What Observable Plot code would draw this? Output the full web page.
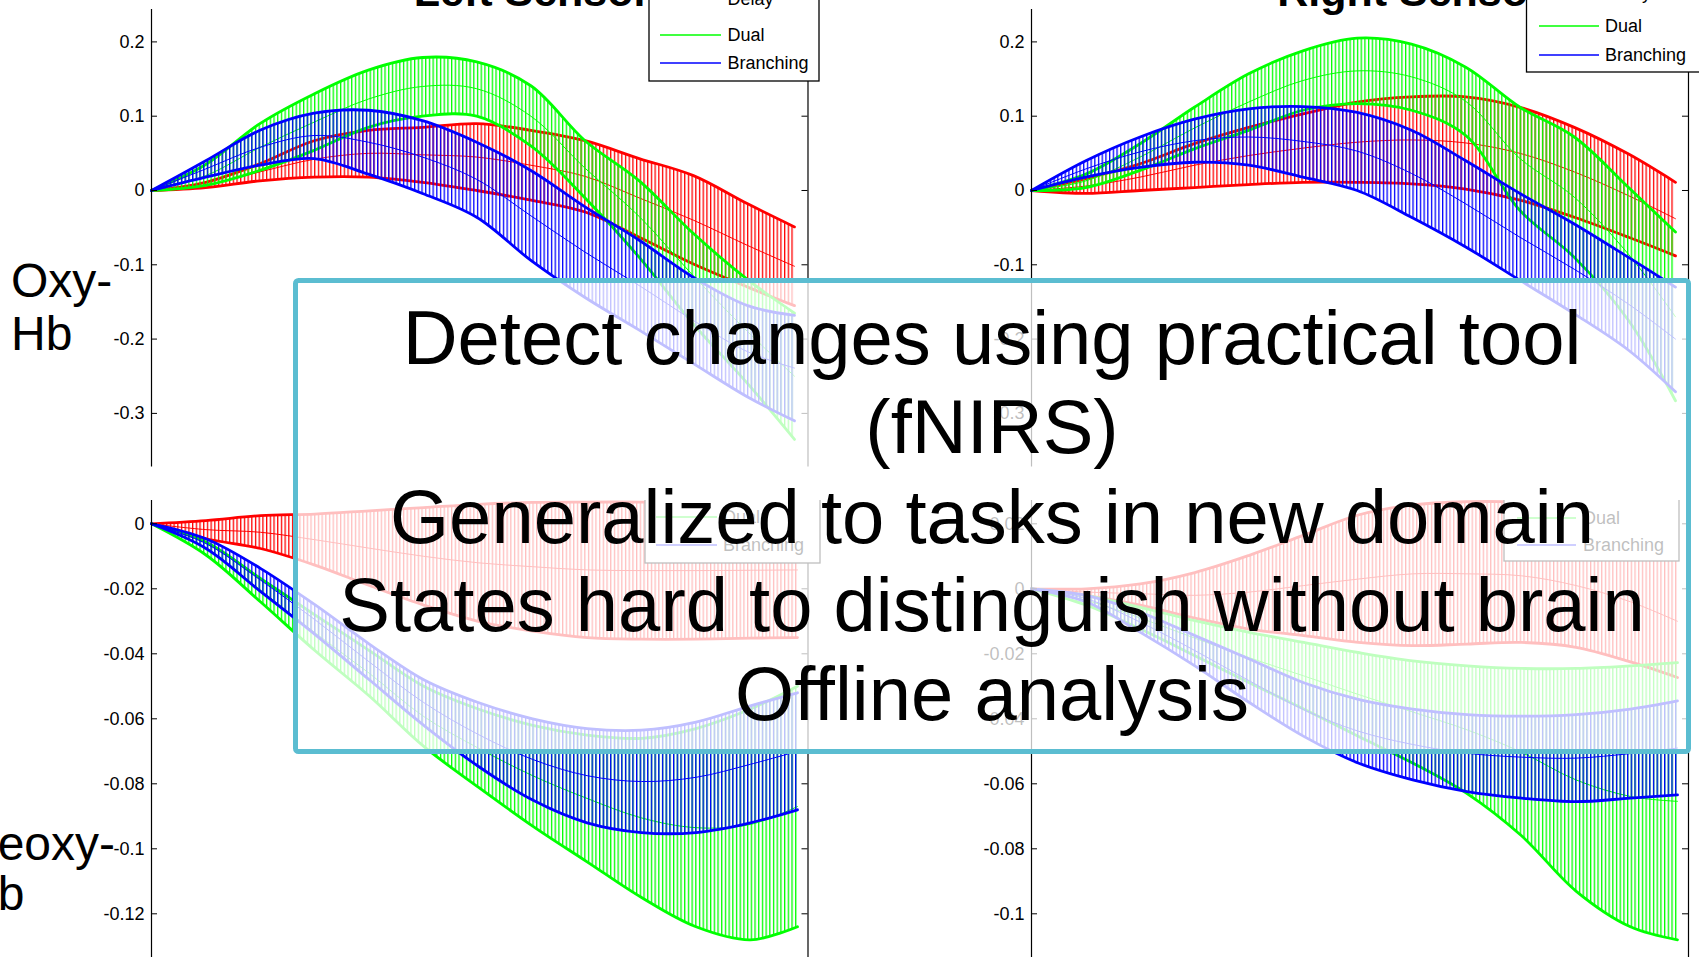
<!DOCTYPE html>
<html><head><meta charset="utf-8">
<script src="https://cdn.jsdelivr.net/npm/d3@7"></script>
<script src="https://cdn.jsdelivr.net/npm/@observablehq/plot@0.6"></script>
<style>
html,body{margin:0;padding:0;background:#fff;}
#stage{position:relative;width:1699px;height:957px;overflow:hidden;background:#fff;}
.panel{position:absolute;}
</style></head><body>
<svg width="0" height="0" style="position:absolute">
<defs>
<pattern id="vs-red" patternUnits="userSpaceOnUse" width="3.7" height="8"><rect width="1.3" height="8" fill="#ff0000"/></pattern>
<pattern id="vs-green" patternUnits="userSpaceOnUse" width="3.7" height="8"><rect width="1.3" height="8" fill="#00ff00"/></pattern>
<pattern id="vs-blue" patternUnits="userSpaceOnUse" width="3.7" height="8"><rect width="1.3" height="8" fill="#0000ff"/></pattern>
</defs></svg>
<div id="stage"></div>
<script>
// ---- data (time in s) ----
const t = [0, 1.18, 2.36, 3.54, 4.72, 5.9, 7.08, 8.26, 9.44, 10.62, 11.8, 12.98, 14];
const seriesNames = ["Delay", "Dual", "Branching"];

// Left sensor, Oxy-Hb
const tlDelayMean = [0, .007, .025, .042, .05, .048, .045, .034, .019, -.01, -.04, -.074, -.102];
const tlDelayLo   = [0, .004, .013, .018, .018, .011, 0, -.013, -.029, -.063, -.099, -.13, -.155];
const tlDelayHi   = [0, .011, .036, .067, .081, .085, .09, .081, .067, .043, .02, -.018, -.049];
const tlDualMean  = [0, .02, .058, .092, .123, .14, .137, .1, .03, -.035, -.115, -.19, -.25];
const tlDualLo    = [0, .007, .027, .054, .085, .1, .1, .06, -.01, -.09, -.18, -.26, -.335];
const tlDualHi    = [0, .035, .09, .13, .162, .179, .173, .141, .067, .013, -.058, -.12, -.165];
const tlBranMean  = [0, .029, .058, .074, .065, .045, .015, -.034, -.083, -.128, -.175, -.217, -.239];
const tlBranLo    = [0, .018, .034, .043, .022, -.004, -.036, -.094, -.144, -.188, -.233, -.278, -.31];
const tlBranHi    = [0, .04, .081, .104, .108, .094, .065, .027, -.022, -.067, -.117, -.155, -.168];

// Right sensor, Oxy-Hb
const trDelayMean = [0, .006, .018, .034, .047, .057, .065, .068, .064, .05, .025, -.007, -.038];
const trDelayLo   = [0, -.004, 0, .004, .008, .011, .011, .009, .002, -.013, -.036, -.063, -.088];
const trDelayHi   = [0, .016, .036, .063, .085, .103, .119, .126, .126, .112, .085, .049, .011];
const trDualMean  = [0, .013, .045, .084, .119, .148, .161, .153, .12, .043, -.009, -.086, -.17];
const trDualLo    = [0, .004, .027, .056, .081, .108, .117, .108, .074, -.027, -.09, -.175, -.283];
const trDualHi    = [0, .022, .063, .112, .157, .188, .205, .197, .166, .112, .072, .004, -.056];
const trBranMean  = [0, .029, .052, .067, .072, .066, .053, .023, -.018, -.063, -.106, -.153, -.2];
const trBranLo    = [0, .018, .031, .038, .034, .018, 0, -.036, -.076, -.121, -.166, -.215, -.271];
const trBranHi    = [0, .04, .072, .096, .11, .113, .105, .081, .04, -.004, -.045, -.09, -.13];

// Left sensor, Deoxy-Hb
const blDelayMean = [0, -.0018, -.0026, -.0049, -.0075, -.01, -.012, -.0132, -.0142, -.0144, -.0144, -.0143, -.0142];
const blDelayLo   = [0, -.0046, -.0076, -.0127, -.019, -.025, -.03, -.033, -.035, -.0355, -.0355, -.0352, -.035];
const blDelayHi   = [0, .001, .0025, .003, .004, .005, .006, .0066, .0067, .0067, .0067, .0067, .0066];
const blDualMean  = [0, -.0076, -.0204, -.0335, -.046, -.0593, -.069, -.0775, -.0845, -.0905, -.0935, -.0925, -.087];
const blDualLo    = [0, -.0096, -.024, -.039, -.053, -.0685, -.081, -.093, -.104, -.115, -.124, -.128, -.124];
const blDualHi    = [0, -.0056, -.0168, -.028, -.039, -.05, -.057, -.062, -.065, -.066, -.063, -.057, -.05];
const blBranMean  = [0, -.0061, -.0173, -.0295, -.0425, -.055, -.0648, -.0725, -.0775, -.0793, -.078, -.074, -.07];
const blBranLo    = [0, -.0076, -.0208, -.034, -.048, -.062, -.0746, -.085, -.092, -.095, -.095, -.092, -.088];
const blBranHi    = [0, -.0046, -.0137, -.0249, -.037, -.048, -.055, -.06, -.063, -.0635, -.061, -.056, -.052];

// Right sensor, Deoxy-Hb
const brDelayMean = [0, -.001, -.0015, -.002, -.001, .001, .003, .0046, .0046, .004, .001, -.004, -.01];
const brDelayLo   = [0, -.002, -.005, -.009, -.0124, -.0144, -.0165, -.0175, -.017, -.0165, -.018, -.0225, -.0273];
const brDelayHi   = [0, 0, .0015, .005, .0103, .0165, .0227, .0258, .0268, .0268, .0268, .0262, .0255];
const brDualMean  = [0, -.0035, -.009, -.0152, -.0212, -.0268, -.0325, -.0379, -.0434, -.0503, -.0588, -.0639, -.0654];
const brDualLo    = [0, -.005, -.0124, -.0206, -.0289, -.037, -.0454, -.0536, -.063, -.076, -.093, -.104, -.108];
const brDualHi    = [0, -.002, -.0057, -.0098, -.0134, -.0165, -.0196, -.0222, -.0237, -.0245, -.0245, -.0237, -.0227];
const brBranMean  = [0, -.003, -.0103, -.019, -.0283, -.0372, -.0438, -.0479, -.0506, -.0518, -.0521, -.0507, -.049];
const brBranLo    = [0, -.004, -.0134, -.0237, -.035, -.0454, -.0536, -.0588, -.0624, -.0644, -.0655, -.0644, -.0634];
const brBranHi    = [0, -.002, -.0072, -.0144, -.0216, -.0289, -.034, -.037, -.0387, -.0392, -.0387, -.037, -.0345];

// tick values and labels
const oxyTicks = [0.2, 0.1, 0, -0.1, -0.2, -0.3];
const oxyTickLabels = ["0.2", "0.1", "0", "-0.1", "-0.2", "-0.3"];
const deoxyLeftTicks = [0, -0.02, -0.04, -0.06, -0.08, -0.1, -0.12];
const deoxyLeftTickLabels = ["0", "-0.02", "-0.04", "-0.06", "-0.08", "-0.1", "-0.12"];
const deoxyRightTicks = [0.02, 0, -0.02, -0.04, -0.06, -0.08, -0.1];
const deoxyRightTickLabels = ["0.02", "0", "-0.02", "-0.04", "-0.06", "-0.08", "-0.1"];

// texts
const panelTitles = ["Left Sensor", "Right Sensor"];
const oxyLabel = ["Oxy-", "Hb"];
const deoxyLabel = ["Deoxy-", "Hb"];
const overlayLines = ["Detect changes using practical tool", "(fNIRS)", "Generalized to tasks in new domain", "States hard to distinguish without brain", "Offline analysis"];

// ---- styling / layout ----
const colors = ["#ff0000", "#00ff00", "#0000ff"];
const patterns = ["vs-red", "vs-green", "vs-blue"];
const FONT = "'Liberation Sans', Arial, Helvetica, sans-serif";
const stage = document.getElementById("stage");

function panel(cfg, groups, ticks, tickLabels) {
  const ML = 70, MR = 14, MT = 12, MB = 12;
  const frameW = cfg.right - cfg.left;
  const frameH = cfg.bottom - cfg.top;
  const xmax = 14 * frameW / (cfg.dataEnd - cfg.left);
  const yTop = (cfg.zero - cfg.top) / cfg.k;
  const yBot = (cfg.zero - cfg.bottom) / cfg.k;
  const tickLen = 6 * xmax / frameW;
  const lab = new Map(ticks.map((v, i) => [v, tickLabels[i]]));
  const marks = [];
  groups.forEach((g, si) => {
    const rows = t.map((x, i) => ({t: x, mean: g[0][i], lo: g[1][i], hi: g[2][i]}));
    marks.push(Plot.areaY(rows, {x: "t", y1: "lo", y2: "hi", fill: `url(#${patterns[si]})`, curve: "catmull-rom"}));
    marks.push(Plot.line(rows, {x: "t", y: "hi", stroke: colors[si], strokeWidth: 2.8, curve: "catmull-rom"}));
    marks.push(Plot.line(rows, {x: "t", y: "lo", stroke: colors[si], strokeWidth: 2.8, curve: "catmull-rom"}));
    marks.push(Plot.line(rows, {x: "t", y: "mean", stroke: colors[si], strokeWidth: 1, curve: "catmull-rom"}));
  });
  marks.push(Plot.ruleX([0, xmax], {stroke: "#000", strokeWidth: 1.2}));
  marks.push(Plot.ruleY(ticks, {x1: 0, x2: tickLen, stroke: "#000"}));
  marks.push(Plot.ruleY(ticks, {x1: xmax - tickLen, x2: xmax, stroke: "#000"}));
  const svg = Plot.plot({
    width: frameW + ML + MR, height: frameH + MT + MB,
    marginLeft: ML, marginRight: MR, marginTop: MT, marginBottom: MB,
    x: {domain: [0, xmax], axis: null},
    y: {domain: [yBot, yTop], ticks, tickFormat: d => lab.get(d), tickSize: 0, tickPadding: 7, label: null},
    style: {background: "transparent", color: "#000", fontFamily: FONT, fontSize: "18px", overflow: "visible", maxWidth: "none"},
    marks
  });
  const div = document.createElement("div");
  div.className = "panel";
  div.style.left = (cfg.left - ML) + "px";
  div.style.top = (cfg.top - MT) + "px";
  div.style.width = (frameW + ML + MR) + "px";
  div.appendChild(svg);
  stage.appendChild(div);
}

panel({left: 151, right: 807.5, top: 9.3, bottom: 466.7, dataEnd: 794, zero: 190.3, k: 743},
  [[tlDelayMean, tlDelayLo, tlDelayHi], [tlDualMean, tlDualLo, tlDualHi], [tlBranMean, tlBranLo, tlBranHi]],
  oxyTicks, oxyTickLabels);
panel({left: 1031, right: 1688, top: 9.3, bottom: 466.7, dataEnd: 1675, zero: 190.3, k: 743},
  [[trDelayMean, trDelayLo, trDelayHi], [trDualMean, trDualLo, trDualHi], [trBranMean, trBranLo, trBranHi]],
  oxyTicks, oxyTickLabels);
panel({left: 151, right: 807.5, top: 500, bottom: 962, dataEnd: 797, zero: 523.3, k: 3250},
  [[blDelayMean, blDelayLo, blDelayHi], [blDualMean, blDualLo, blDualHi], [blBranMean, blBranLo, blBranHi]],
  deoxyLeftTicks, deoxyLeftTickLabels);
panel({left: 1031, right: 1688, top: 500, bottom: 962, dataEnd: 1677, zero: 588.3, k: 3250},
  [[brDelayMean, brDelayLo, brDelayHi], [brDualMean, brDualLo, brDualHi], [brBranMean, brBranLo, brBranHi]],
  deoxyRightTicks, deoxyRightTickLabels);

// ---- annotation layer: titles, row labels, legends, overlay ----
const NS = "http://www.w3.org/2000/svg";
const ann = document.createElementNS(NS, "svg");
ann.setAttribute("width", 1699); ann.setAttribute("height", 957);
ann.style.position = "absolute"; ann.style.left = "0"; ann.style.top = "0";
ann.style.fontFamily = FONT;
stage.appendChild(ann);
const defs = document.createElementNS(NS, "defs");
ann.appendChild(defs);
function el(name, attrs, text, parent) {
  const e = document.createElementNS(NS, name);
  for (const k in attrs) e.setAttribute(k, attrs[k]);
  if (text != null) e.textContent = text;
  (parent || ann).appendChild(e);
  return e;
}
// titles
el("text", {x: 532, y: 6, "text-anchor": "middle", "font-size": 43, "font-weight": "bold"}, panelTitles[0]);
el("text", {x: 1411, y: 6, "text-anchor": "middle", "font-size": 43, "font-weight": "bold"}, panelTitles[1]);
// row labels
el("text", {x: 11, y: 297, "font-size": 48}, oxyLabel[0]);
el("text", {x: 11, y: 350, "font-size": 48}, oxyLabel[1]);
el("text", {x: -37, y: 860, "font-size": 48}, deoxyLabel[0]);
el("text", {x: -37, y: 910, "font-size": 48}, deoxyLabel[1]);
// legends (bottom ones are cropped at the top of their axes, as in the slide)
function legend(id, box, ys, lineX, textX, clipTop) {
  const cp = el("clipPath", {id}, null, defs);
  el("rect", {x: 0, y: clipTop, width: 1800, height: 1000}, null, cp);
  const g = el("g", {"clip-path": `url(#${id})`});
  el("rect", {x: box[0], y: box[1], width: box[2] - box[0], height: box[3] - box[1], fill: "#fff", stroke: "#000", "stroke-width": 1.3}, null, g);
  seriesNames.forEach((n, i) => {
    el("line", {x1: lineX[0], x2: lineX[1], y1: ys[i], y2: ys[i], stroke: colors[i], "stroke-width": 1.5}, null, g);
    el("text", {x: textX, y: ys[i], "font-size": 18, "dominant-baseline": "central"}, n, g);
  });
}
legend("lg1", [649, -40, 819, 81], [-1, 35, 63], [660, 721], 727.5, -100);
legend("lg2", [1526.5, -40, 1740, 72], [-7, 26, 55], [1539, 1599], 1605, -100);
legend("lg3", [645, 470, 820, 563], [489, 517, 545], [656, 717], 723, 500);
legend("lg4", [1504, 470, 1679, 561], [490, 518, 545], [1517, 1576], 1583, 500);
// overlay box with text
el("rect", {x: 295.5, y: 280.5, width: 1393, height: 471, rx: 3, fill: "rgba(255,255,255,0.75)", stroke: "#5bbdd1", "stroke-width": 5});
const baselines = [364, 453, 543, 631, 720];
overlayLines.forEach((s, i) => el("text", {x: 992, y: baselines[i], "text-anchor": "middle", "font-size": 76, fill: "#000"}, s));
</script>
</body></html>
